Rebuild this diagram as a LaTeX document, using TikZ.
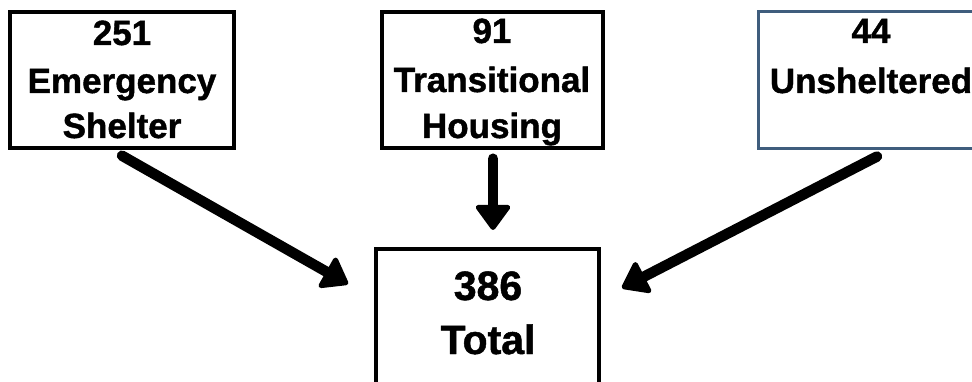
\documentclass[tikz,border=0pt]{standalone}
\usepackage{fontspec}
\setmainfont{Liberation Sans}[BoldFeatures={FakeBold=1.2}]
\usetikzlibrary{arrows.meta}
\definecolor{slateborder}{HTML}{3F5D7D}
\begin{document}
\begin{tikzpicture}[x=1pt,y=-1pt,
  box/.style={draw=black,line width=3.4pt,rectangle,inner sep=0pt,fill=white},
  bluebox/.style={draw=slateborder,line width=3pt,rectangle,inner sep=0pt,fill=white},
  lbl/.style={font=\fontsize{35}{42}\selectfont\bfseries,anchor=base,inner sep=0pt},
  biglbl/.style={font=\fontsize{41}{48}\selectfont\bfseries,anchor=base,inner sep=0pt},
  bigarrow/.style={line width=10.5pt,line cap=round,
    -{Triangle[length=27pt,width=38pt,round,line width=5pt]}}]
\useasboundingbox (0,0) rectangle (972,382);
\clip (0,0) rectangle (972,382);
\fill[white] (0,0) rectangle (972,382);
% boxes
\node[box,minimum width=224pt,minimum height=136pt] (es) at (122,80) {};
\node[box,minimum width=221pt,minimum height=136pt] (th) at (492.5,80) {};
\node[bluebox,minimum width=226pt,minimum height=137pt] (un) at (871,80.5) {};
\node[box,minimum width=223pt,minimum height=160pt] (tot) at (487.5,329) {};
% labels
\node[lbl] (es1) at (122,45) {251};
\node[lbl] (es2) at (122,93) {Emergency};
\node[lbl] (es3) at (122,138) {Shelter};
\node[lbl] (th1) at (492,43) {91};
\node[lbl] (th2) at (492,92) {Transitional};
\node[lbl] (th3) at (492,138) {Housing};
\node[lbl] (un1) at (871,43) {44};
\node[lbl] (un2) at (871,93) {Unsheltered};
\node[biglbl] (tot1) at (488,300) {386};
\node[biglbl] (tot2) at (488,354) {Total};
% arrow tips
\coordinate (t1) at (348,284);
\coordinate (t2) at (493,230);
\coordinate (t3) at (622,288);
% connectors
\draw[bigarrow] ([xshift=0pt,yshift=-6pt]es.south) -- (t1);
\draw[bigarrow] ([xshift=0.5pt,yshift=-9pt]th.south) -- (t2);
\draw[bigarrow] ([xshift=6pt,yshift=-6pt]un.south) -- (t3);
\end{tikzpicture}
\end{document}
